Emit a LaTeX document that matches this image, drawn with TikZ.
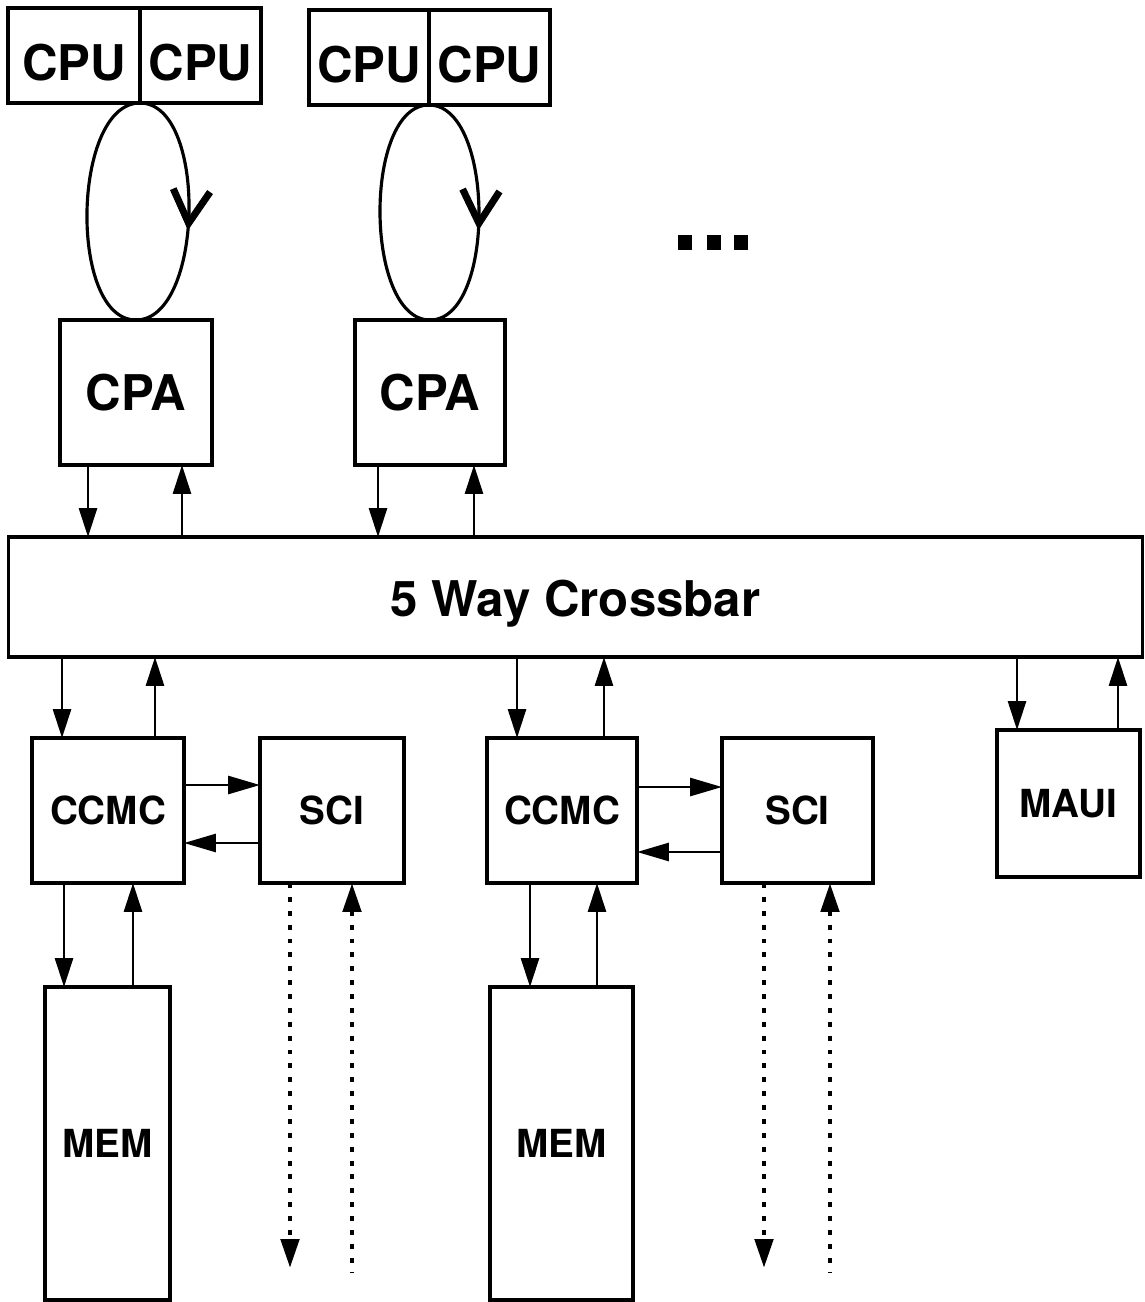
\documentclass[tikz,border=0pt]{standalone}
\usepackage{fontspec}
\setmainfont{TeX Gyre Heros}
\usetikzlibrary{arrows.meta,positioning,decorations.markings}

\begin{document}
\begin{tikzpicture}[
  x=0.02cm, y=-0.02cm,
  font=\bfseries,
  box/.style={draw, line width=1.8pt, outer sep=0pt, inner sep=0pt, minimum height=2.9cm},
  big/.style={box, font=\fontsize{28}{30}\selectfont\bfseries},
  small/.style={box, font=\fontsize{22}{24}\selectfont\bfseries},
  cpubox/.style={big, minimum height=1.9cm, text height=28pt, text depth=0pt},
  link/.style={line width=1.6pt},
  arr/.style={link, -{Triangle[length=0.58cm, width=0.36cm]}},
  rarr/.style={link, {Triangle[length=0.58cm, width=0.36cm]}-},
  harr/.style={link, -{Triangle[length=0.64cm, width=0.36cm]}},
  rharr/.style={link, {Triangle[length=0.64cm, width=0.36cm]}-},
  dotlink/.style={line width=2.8pt, dash pattern=on 2.8pt off 5.1pt},
  ring/.style={line width=1.8pt},
  turn/.style={postaction={decorate}, decoration={markings,
    mark=at position 0.57 with {\arrow{Straight Barb[length=0.66cm, width=0.74cm, line width=4pt]}}}}]
  \useasboundingbox (0,0) rectangle (1144,1302);
  % processors
  \node[cpubox, minimum width=2.64cm] (cpuA) at (74,55.5) {CPU};
  \node[cpubox, minimum width=2.42cm, right=0pt of cpuA] (cpuB) {CPU};
  \node[cpubox, minimum width=2.4cm] (cpuC) at (369,57.5) {CPU};
  \node[cpubox, minimum width=2.42cm, right=0pt of cpuC] (cpuD) {CPU};
  \node[big, minimum width=3.04cm] (cpaL) at (136,392.5) {CPA};
  \node[big, minimum width=3.0cm] (cpaR) at (430,392.5) {CPA};
  \foreach \x in {685,714,741} \fill (\x-7,235) rectangle ++(14,15);
  % crossbar
  \node[box, minimum width=22.7cm, minimum height=2.4cm, text height=22pt, text depth=0pt,
    font=\fontsize{28}{30}\selectfont\bfseries] (bar) at (575.5,597) {5 Way Crossbar};
  % memory side
  \node[small, minimum width=3.04cm] (ccmcL) at (108,810.5) {CCMC};
  \node[small, minimum width=2.88cm] (sciL) at (332,810.5) {SCI};
  \node[small, minimum width=3.0cm] (ccmcR) at (562,810.5) {CCMC};
  \node[small, minimum width=3.02cm] (sciR) at (797.5,810.5) {SCI};
  \node[small, minimum width=2.86cm, minimum height=2.94cm] (maui) at (1068.5,803.5) {MAUI};
  \node[small, minimum width=2.5cm, minimum height=6.26cm] (memL) at (107.5,1143.5) {MEM};
  \node[small, minimum width=2.86cm, minimum height=6.26cm] (memR) at (561.5,1143.5) {MEM};
  \coordinate (outL) at (290,1268);
  \coordinate (inL) at (352,1272);
  \coordinate (outR) at (764,1268);
  \coordinate (inR) at (830,1272);

  % cpu rings
  \draw[ring] (cpuA.south east) .. controls +(-68,0) and +(-68,0) .. (cpaL.north);
  \draw[ring, turn] (cpuA.south east) .. controls +(68,0) and +(68,0) .. (cpaL.north);
  \draw[ring] (cpuC.south east) .. controls +(-66,0) and +(-66,0) .. (cpaR.north);
  \draw[ring, turn] (cpuC.south east) .. controls +(66,0) and +(66,0) .. (cpaR.north);

  % cpa <-> crossbar
  \draw[arr] ([xshift=-0.96cm]cpaL.south) coordinate (p) -- (p |- bar.north);
  \draw[rarr] ([xshift=0.92cm]cpaL.south) coordinate (p) -- (p |- bar.north);
  \draw[arr] ([xshift=-1.04cm]cpaR.south) coordinate (p) -- (p |- bar.north);
  \draw[rarr] ([xshift=0.88cm]cpaR.south) coordinate (p) -- (p |- bar.north);

  % crossbar <-> ccmc, maui
  \draw[rarr] ([xshift=-0.92cm]ccmcL.north) coordinate (p) -- (p |- bar.south);
  \draw[arr] ([xshift=0.94cm]ccmcL.north) coordinate (p) -- (p |- bar.south);
  \draw[rarr] ([xshift=-0.9cm]ccmcR.north) coordinate (p) -- (p |- bar.south);
  \draw[arr] ([xshift=0.84cm]ccmcR.north) coordinate (p) -- (p |- bar.south);
  \draw[rarr] ([xshift=-1.03cm]maui.north) coordinate (p) -- (p |- bar.south);
  \draw[arr] ([xshift=0.99cm]maui.north) coordinate (p) -- (p |- bar.south);

  % ccmc <-> sci
  \draw[harr] ([yshift=0.51cm]ccmcL.east) coordinate (p) -- (p -| sciL.west);
  \draw[rharr] ([yshift=-0.65cm]ccmcL.east) coordinate (p) -- (p -| sciL.west);
  \draw[harr] ([yshift=0.47cm]ccmcR.east) coordinate (p) -- (p -| sciR.west);
  \draw[rharr] ([yshift=-0.83cm]ccmcR.east) coordinate (p) -- (p -| sciR.west);

  % ccmc <-> mem
  \draw[arr] ([xshift=-0.88cm]ccmcL.south) coordinate (p) -- (p |- memL.north);
  \draw[rarr] ([xshift=0.5cm]ccmcL.south) coordinate (p) -- (p |- memL.north);
  \draw[arr] ([xshift=-0.64cm]ccmcR.south) coordinate (p) -- (p |- memR.north);
  \draw[rarr] ([xshift=0.7cm]ccmcR.south) coordinate (p) -- (p |- memR.north);

  % sci links
  \draw[dotlink, -{Triangle[length=0.58cm, width=0.36cm]}] (sciL.south -| outL) -- (outL);
  \draw[dotlink, {Triangle[length=0.58cm, width=0.36cm]}-] (sciL.south -| inL) -- (inL);
  \draw[dotlink, -{Triangle[length=0.58cm, width=0.36cm]}] (sciR.south -| outR) -- (outR);
  \draw[dotlink, {Triangle[length=0.58cm, width=0.36cm]}-] (sciR.south -| inR) -- (inR);
\end{tikzpicture}
\end{document}
